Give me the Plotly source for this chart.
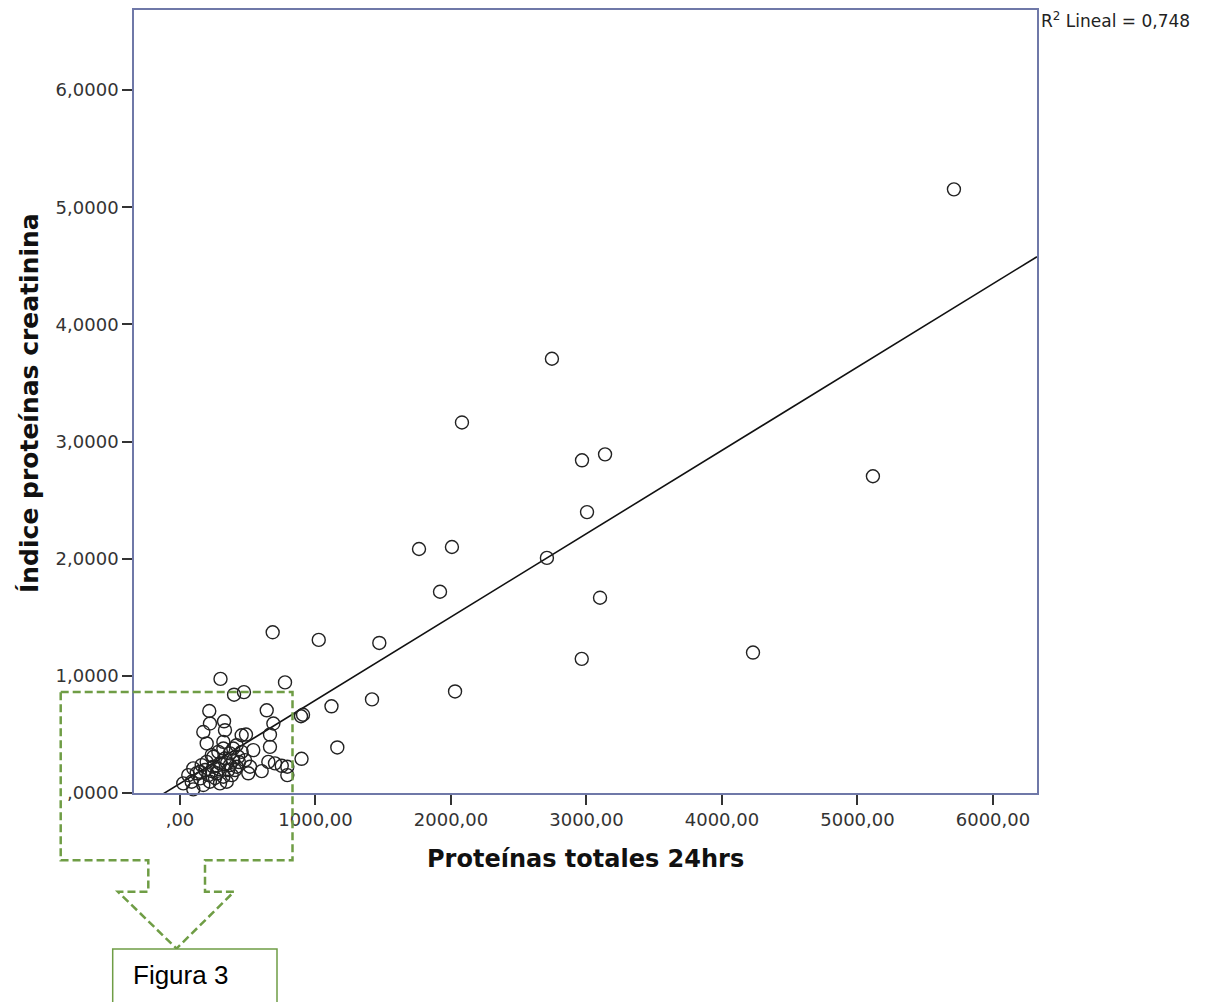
import plotly.graph_objects as go

# ---- data ----
prot_24h = [
    5712, 2745, 2081, 3137, 2967, 5114, 3004, 1764, 2007, 2708, 1919, 3100,
    684, 1024, 1471, 4229, 2965, 2030, 299, 775, 399, 472, 1417, 1118, 893, 908,
    1161, 897,
    216, 640, 221, 325, 172, 332, 689, 664, 455, 487, 197, 320, 664, 418, 234,
    541, 652, 701, 751, 792, 792, 603, 504, 98, 61, 24, 98, 295,
    160, 197, 246, 295, 332, 369, 393, 430, 455, 418, 356, 271, 209, 148, 221,
    172, 320, 382, 246, 283, 320, 393, 480, 517, 123, 86, 148, 345, 258, 406,
    347, 288, 185, 236, 435, 369,
]
indice_pc = [
    5.153, 3.707, 3.163, 2.891, 2.840, 2.704, 2.398, 2.083, 2.100, 2.007, 1.718, 1.667,
    1.372, 1.307, 1.281, 1.199, 1.145, 0.867, 0.974, 0.944, 0.839, 0.861, 0.799, 0.740, 0.655, 0.668,
    0.389, 0.292,
    0.700, 0.706, 0.593, 0.612, 0.521, 0.536, 0.593, 0.499, 0.493, 0.499, 0.423, 0.436, 0.394, 0.408, 0.323,
    0.366, 0.266, 0.253, 0.232, 0.224, 0.153, 0.187, 0.168, 0.210, 0.153, 0.082, 0.031, 0.082,
    0.238, 0.266, 0.224, 0.253, 0.295, 0.338, 0.281, 0.309, 0.351, 0.224, 0.196, 0.168, 0.153, 0.125, 0.096,
    0.068, 0.139, 0.153, 0.309, 0.351, 0.380, 0.380, 0.281, 0.224, 0.168, 0.096, 0.181, 0.096, 0.128, 0.196,
    0.255, 0.204, 0.196, 0.187, 0.264, 0.238,
]

fit_slope = 0.000711
fit_intercept = 0.081
r2_text = "R<sup>2</sup> Lineal = 0,748"

x_tickvals = [0, 1000, 2000, 3000, 4000, 5000, 6000]
x_ticktext = [",00", "1000,00", "2000,00", "3000,00", "4000,00", "5000,00", "6000,00"]
y_tickvals = [0, 1, 2, 3, 4, 5, 6]
y_ticktext = [",0000", "1,0000", "2,0000", "3,0000", "4,0000", "5,0000", "6,0000"]

x_range = [-339.5, 6325]
y_range = [0, 6.684]

x_title = "Proteínas totales 24hrs"
y_title = "Índice proteínas creatinina"
caption = "Figura 3"

# ---- layout geometry (page body adds an 8px offset) ----
OFF = 8
W, H = 1217 - OFF, 1002 - OFF
plot_left, plot_top, plot_right, plot_bottom = 134, 8, 1037, 793  # in window pixels
L = plot_left - OFF
T = plot_top - OFF
R = W - (plot_right - OFF)
B = H - (plot_bottom - OFF)
PW, PH = W - L - R, H - T - B


def px(x):
    return (x - plot_left) / PW


def py(y):
    return (plot_bottom - y) / PH


frame_color = "#6f78a8"
green = "#6f9d45"

fig = go.Figure()

fit_x = [x_range[0], x_range[1]]
fit_y = [fit_intercept + fit_slope * v for v in fit_x]
fig.add_trace(go.Scatter(
    x=fit_x, y=fit_y, mode="lines",
    line=dict(color="#111111", width=1.6),
    hoverinfo="skip", showlegend=False,
))

fig.add_trace(go.Scatter(
    x=prot_24h, y=indice_pc, mode="markers",
    marker=dict(symbol="circle-open", size=13, color="#222222",
                line=dict(width=1.4, color="#222222")),
    cliponaxis=False, showlegend=False,
))

axis_common = dict(
    showgrid=False, zeroline=False,
    showline=True, linecolor=frame_color, linewidth=1.6, mirror=True,
    ticks="outside", ticklen=10, tickwidth=2, tickcolor="#333333",
    tickfont=dict(family="DejaVu Sans", size=18, color="#333333"),
)

fig.update_xaxes(range=x_range, tickvals=x_tickvals, ticktext=x_ticktext, **axis_common)
fig.update_yaxes(range=y_range, tickvals=y_tickvals, ticktext=y_ticktext, **axis_common)

dash_pat = "8px,4px"
callout_pts = [
    (60.7, 691.7), (292.5, 691.7), (292.5, 860.5), (205, 860.5), (205, 892),
    (234, 892), (176.5, 949), (118, 892), (148.3, 892), (148.3, 860.5), (60.7, 860.5),
]
path = "M " + " L ".join(f"{px(a):.5f},{py(b):.5f}" for a, b in callout_pts) + " Z"

shapes = [
    dict(type="path", xref="paper", yref="paper", path=path,
         line=dict(color=green, width=2.5, dash=dash_pat), layer="above"),
    dict(type="rect", xref="paper", yref="paper",
         x0=px(112.7), x1=px(277), y0=py(949.3), y1=py(1015),
         line=dict(color=green, width=1.5), fillcolor="white", layer="above"),
]

annotations = [
    dict(text=x_title, xref="paper", yref="paper", x=px(585.5), y=py(859),
         xanchor="center", yanchor="middle", showarrow=False,
         font=dict(family="DejaVu Sans", size=24, color="#111111", weight="bold")),
    dict(text=y_title, xref="paper", yref="paper", x=px(30), y=py(402), textangle=-90,
         xanchor="center", yanchor="middle", showarrow=False,
         font=dict(family="DejaVu Sans", size=25, color="#111111", weight="bold")),
    dict(text=r2_text, xref="paper", yref="paper", x=px(1039), y=py(18),
         xanchor="left", yanchor="middle", showarrow=False,
         font=dict(family="DejaVu Sans", size=17, color="#222222")),
    dict(text=caption, xref="paper", yref="paper", x=px(131), y=py(975),
         xanchor="left", yanchor="middle", showarrow=False,
         font=dict(family="Liberation Sans", size=26, color="#000000")),
]

fig.update_layout(
    width=W, height=H,
    margin=dict(l=L, r=R, t=T, b=B, pad=0),
    plot_bgcolor="white", paper_bgcolor="white",
    shapes=shapes, annotations=annotations,
    showlegend=False,
)

fig.write_html("out.html")
